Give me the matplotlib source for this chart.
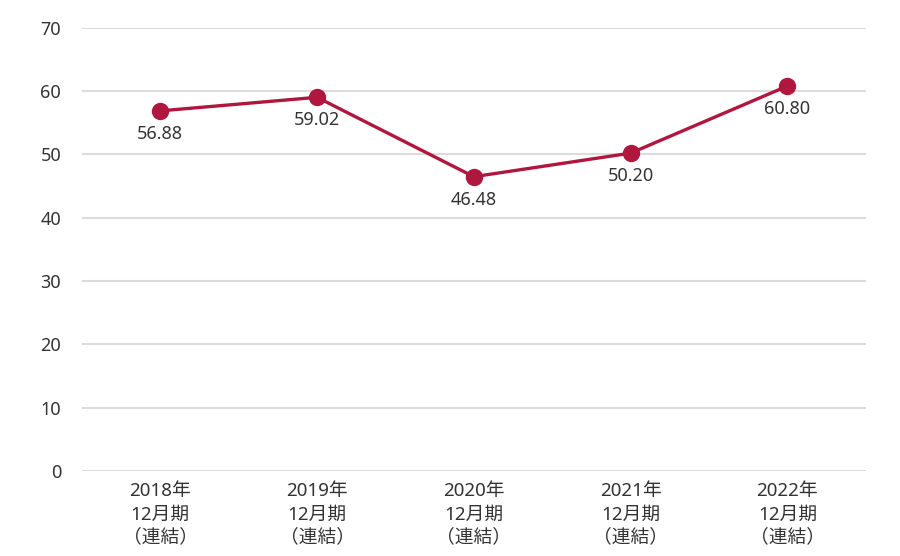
import matplotlib
matplotlib.use("Agg")
import matplotlib.pyplot as plt

plt.rcParams['font.family'] = ['Noto Sans', 'Noto Sans CJK JP', 'DejaVu Sans']

periods = ['2018年\n12月期\n（連結）', '2019年\n12月期\n（連結）', '2020年\n12月期\n（連結）',
           '2021年\n12月期\n（連結）', '2022年\n12月期\n（連結）']
values = [56.88, 59.02, 46.48, 50.20, 60.80]
yticks = [0, 10, 20, 30, 40, 50, 60, 70]

line_color = '#b0173f'
text_color = '#333333'

fig = plt.figure(figsize=(9, 5.56), dpi=100)
ax = fig.add_axes([0.091, 0.153, 0.871, 0.797])

x = list(range(len(values)))
ax.plot(x, values, color=line_color, lw=2.4, marker='o', markersize=11.5, zorder=3)

for xi, v in zip(x, values):
    ax.annotate(f'{v:.2f}', (xi, v), xytext=(0, -10), textcoords='offset points',
                ha='center', va='top', fontsize=13, color=text_color)

ax.set_xlim(-0.5, 4.5)
ax.set_ylim(0, 70)
ax.set_yticks(yticks)
ax.set_xticks(x)
ax.set_xticklabels(periods, fontsize=13.5, color=text_color, linespacing=1.38)
ax.tick_params(axis='y', length=0, pad=15, labelsize=13, labelcolor=text_color)
ax.tick_params(axis='x', length=0, pad=8)
ax.grid(axis='y', color='#dcdcdc', lw=1.5)
ax.set_axisbelow(True)
for s in ax.spines.values():
    s.set_visible(False)

fig.savefig('out.png', dpi=100)
